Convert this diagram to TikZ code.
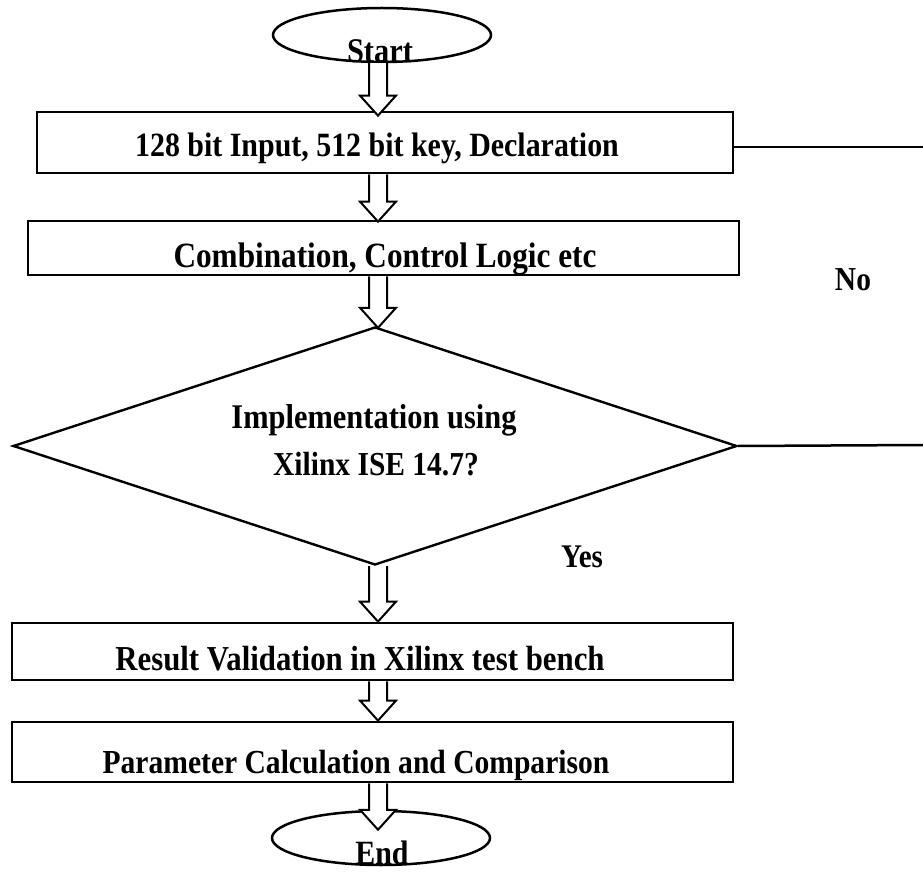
\documentclass[tikz,border=0pt]{standalone}
\usepackage{fontspec}
\setmainfont{Liberation Serif}[FakeStretch=0.88]
\usetikzlibrary{shapes.geometric,calc}
\tikzset{
  boxnode/.style={draw, line width=2.8pt, minimum width=#1, inner sep=0pt},
  ovalnode/.style={draw, ellipse, line width=2.5pt, minimum width=218pt, minimum height=54pt, inner sep=0pt},
  decnode/.style={draw, diamond, line width=2.4pt, minimum width=724pt, minimum height=238pt, inner sep=0pt},
  txt/.style={font=\fontsize{#1}{40}\selectfont\bfseries, inner sep=0pt, anchor=base},
  txt/.default=34,
  hollow/.style={draw, fill=white, line width=2pt, line join=miter},
  link/.style={draw, line width=2.5pt}
}
% #1 start anchor, #2 end anchor, #3 extra depth of the tip below #2
\newcommand\harrow[3]{%
  \path[hollow] let \p1=(axis |- #1), \p2=(axis |- #2) in
    (\x1-9pt,\y1) -- (\x1-9pt,\y2-#3+20pt) -- (\x1-18pt,\y2-#3+20pt) -- (\x1,\y2-#3)
    -- (\x1+18pt,\y2-#3+20pt) -- (\x1+9pt,\y2-#3+20pt) -- (\x1+9pt,\y1);}
\begin{document}
\begin{tikzpicture}[x=1pt,y=-1pt]
  \useasboundingbox (0,0) rectangle (923,874);
  \fill[white] (0,0) rectangle (923,874);
  \coordinate (axis) at (378,0);
  \coordinate (r1) at (923,147);
  \coordinate (r2) at (923,445);
  % shapes
  \node[ovalnode] (start) at (382,35) {};
  \node[boxnode=696pt, minimum height=61pt] (b1) at (385,142.5) {};
  \node[boxnode=711pt, minimum height=54pt] (b2) at (383.5,248) {};
  \node[decnode] (dec) at (375,446) {};
  \node[boxnode=721pt, minimum height=57pt] (b3) at (372.5,651.5) {};
  \node[boxnode=721pt, minimum height=60pt] (b4) at (372.5,752) {};
  \node[ovalnode] (end) at (381,838) {};
  % texts
  \node[txt=34.6] (tstart) at (380,63) {Start};
  \node[txt] (t1) at (377,157) {128 bit Input, 512 bit key, Declaration};
  \node[txt=35.5] (t2) at (385,268) {Combination, Control Logic etc};
  \node[txt=34.6] (t3a) at (374,428) {Implementation using};
  \node[txt=33.5] (t3b) at (376,475) {Xilinx ISE 14.7?};
  \node[txt=35] (t4) at (360,670) {Result Validation in Xilinx test bench};
  \node[txt=33.6] (t5) at (356,773) {Parameter Calculation and Comparison};
  \node[txt] (tend) at (382,864) {End};
  \node[txt=33] (yes) at (582,567) {Yes};
  \node[txt=33.5] (no) at (853,291) {No};
  % connectors
  \draw[link] (b1.east |- r1) -- (r1);
  \draw[link] (dec.east) -- (r2);
  \harrow{start.south}{b1.north}{5pt}
  \harrow{b1.south}{b2.north}{2pt}
  \harrow{b2.south}{dec.north}{2pt}
  \harrow{dec.south}{b3.north}{0pt}
  \harrow{b3.south}{b4.north}{0pt}
  \harrow{b4.south}{end.north}{20pt}
\end{tikzpicture}
\end{document}
